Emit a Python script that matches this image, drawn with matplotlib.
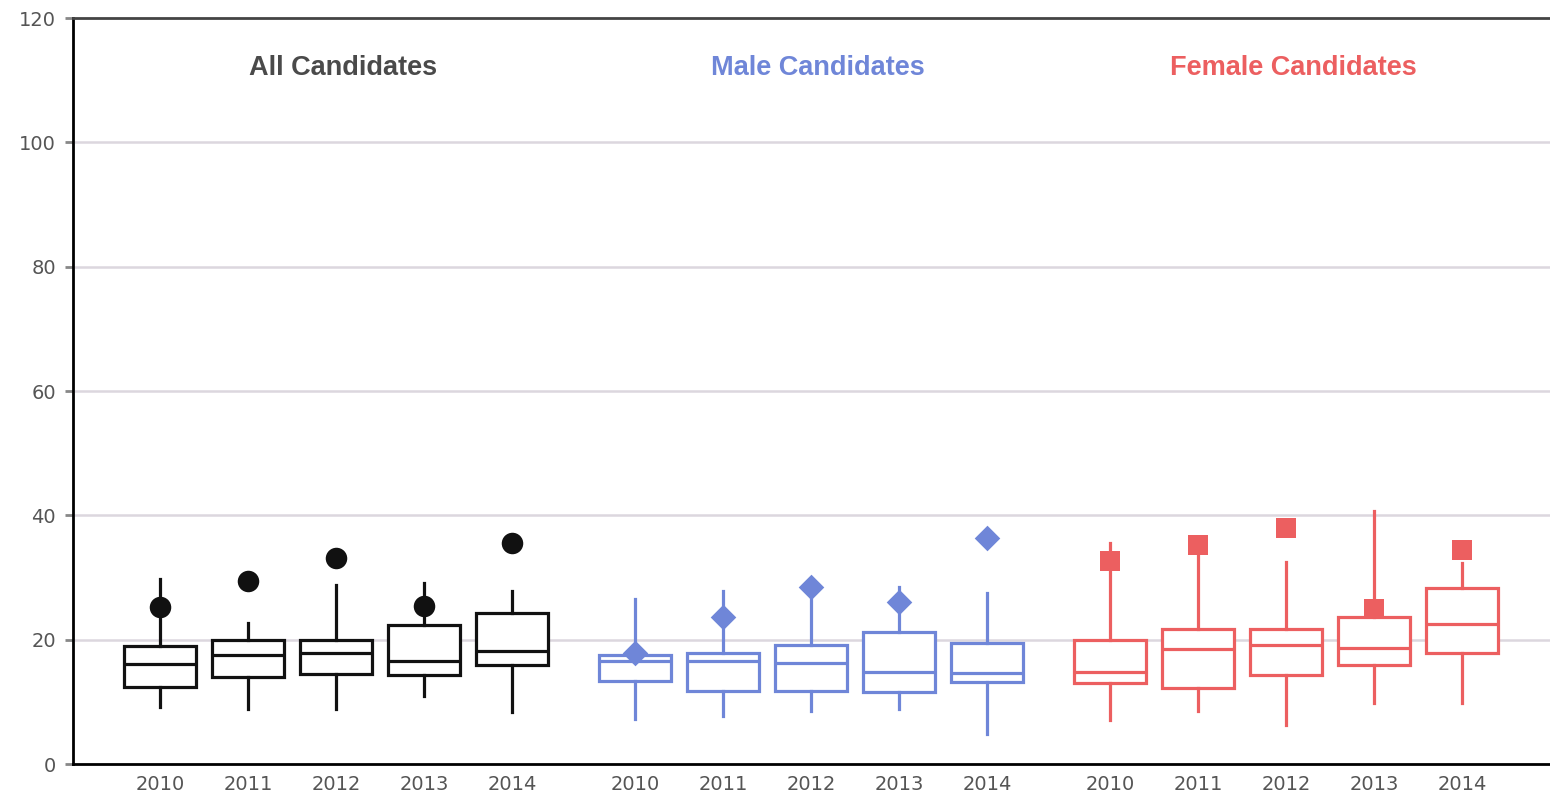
import matplotlib
matplotlib.use("Agg")
import matplotlib.pyplot as plt
import numpy as np

plt.rcParams['font.family'] = ['DejaVu Sans']

years = ['2010', '2011', '2012', '2013', '2014']
groups = ['All Candidates', 'Male Candidates', 'Female Candidates']
colors = ['#111111', '#6f86d8', '#ec5f60']
title_colors = ['#4a4a4a', '#6f86d8', '#ec5f60']
markers = ['o', 'D', 's']
marker_sizes = [240, 170, 200]

# box stats per group: whisker low, q1, median, q3, whisker high
all_lo = [9.2, 8.8, 8.9, 11.0, 8.4]
all_q1 = [12.4, 14.0, 14.5, 14.3, 16.0]
all_med = [16.1, 17.5, 17.9, 16.6, 18.1]
all_q3 = [19.0, 20.0, 19.9, 22.4, 24.3]
all_hi = [29.7, 22.7, 28.8, 29.1, 27.8]
all_pt = [25.3, 29.4, 33.1, 25.4, 35.6]

male_lo = [7.3, 7.8, 8.6, 8.8, 4.9]
male_q1 = [13.3, 11.8, 11.8, 11.6, 13.2]
male_med = [16.5, 16.6, 16.2, 14.8, 14.6]
male_q3 = [17.5, 17.9, 19.2, 21.2, 19.4]
male_hi = [26.5, 27.8, 28.5, 28.4, 27.5]
male_pt = [17.8, 23.6, 28.5, 26.0, 36.4]

female_lo = [7.1, 8.6, 6.3, 9.8, 9.8]
female_q1 = [13.0, 12.3, 14.3, 15.9, 17.8]
female_med = [14.8, 18.5, 19.2, 18.7, 22.5]
female_q3 = [20.0, 21.7, 21.7, 23.7, 28.3]
female_hi = [35.6, 35.2, 32.5, 40.7, 32.3]
female_pt = [32.7, 35.2, 37.9, 24.9, 34.5]

data = [
    (all_lo, all_q1, all_med, all_q3, all_hi, all_pt),
    (male_lo, male_q1, male_med, male_q3, male_hi, male_pt),
    (female_lo, female_q1, female_med, female_q3, female_hi, female_pt),
]

fig = plt.figure(figsize=(15.5, 7.97), dpi=100)
ax = fig.add_axes([0.047, 0.0414, 0.953, 0.9360])

group_gap = 5.4
tick_pos = []
tick_lab = []
for g, (lo, q1, med, q3, hi, pt) in enumerate(data):
    pos = np.arange(len(years)) + g * group_gap
    stats = []
    for i in range(len(years)):
        stats.append({'whislo': lo[i], 'q1': q1[i], 'med': med[i],
                      'q3': q3[i], 'whishi': hi[i], 'fliers': []})
    c = colors[g]
    ax.bxp(stats, positions=pos, widths=0.82, showcaps=False,
           showfliers=False, patch_artist=True,
           boxprops=dict(facecolor='white', edgecolor=c, linewidth=2.3),
           medianprops=dict(color=c, linewidth=2.3),
           whiskerprops=dict(color=c, linewidth=2.3), zorder=3)
    ax.scatter(pos, pt, marker=markers[g], s=marker_sizes[g], color=c,
               zorder=4, linewidths=0)
    ax.text(pos[2] + 0.08, 112, groups[g], color=title_colors[g],
            fontsize=19.5, fontweight='bold', ha='center', va='center',
            family='Liberation Sans')
    tick_pos.extend(pos)
    tick_lab.extend(years)

ax.set_xlim(-0.99, 15.8)
ax.set_ylim(0, 120)
ax.set_yticks([0, 20, 40, 60, 80, 100, 120])
ax.set_xticks(tick_pos)
ax.set_xticklabels(tick_lab)

for y in [20, 40, 60, 80, 100]:
    ax.axhline(y, color='#dcd7de', linewidth=1.8, zorder=1)

ax.spines['right'].set_visible(False)
ax.spines['top'].set_color('#444444')
ax.spines['top'].set_linewidth(2)
ax.spines['left'].set_color('black')
ax.spines['left'].set_linewidth(2)
ax.spines['bottom'].set_color('black')
ax.spines['bottom'].set_linewidth(2)

ax.tick_params(axis='y', colors='#888888', labelcolor='#555555',
               labelsize=14, length=6, width=2, pad=6)
ax.tick_params(axis='x', length=0, labelcolor='#555555', labelsize=14, pad=8)

plt.savefig('out.png', dpi=100)
